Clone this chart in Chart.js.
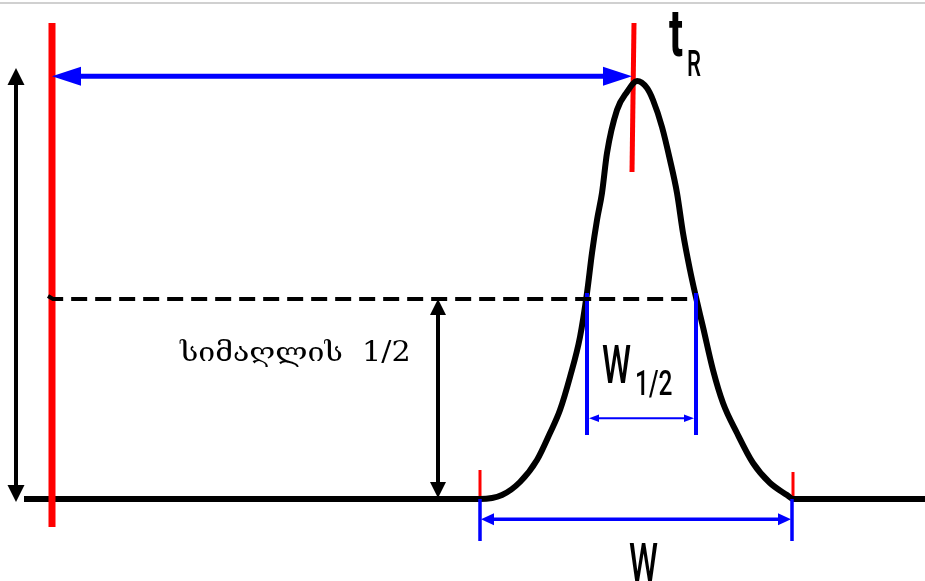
<!DOCTYPE html>
<html>
<head>
<meta charset="utf-8">
<script src="https://cdn.jsdelivr.net/npm/chart.js@4.4.0/dist/chart.umd.min.js"></script>
<style>
  html, body { margin: 0; padding: 0; background: #fff; }
  #wrap { position: relative; width: 925px; height: 581px; }
  #topRule { position: absolute; left: 0; top: 2px; width: 925px; height: 2px; background: #d0d0d0; }
</style>
</head>
<body>
<div id="wrap">
  <canvas id="peakChart" width="925" height="581"></canvas>
  <div id="topRule"></div>
</div>
<script>
// peak trace: time (x) and detector signal (y)
const peakTime   = [24, 480, 502, 520, 537, 550, 560, 570, 580, 587, 592, 597, 602, 607, 617, 627, 637, 647, 653, 662, 670, 677, 683, 690, 695, 703, 713, 723, 737, 753, 770, 787, 793, 925];
const peakSignal = [0, 0, 4, 17, 39, 66, 89, 122, 162, 206, 246, 279, 306, 346, 389, 407, 418, 411, 399, 372, 339, 306, 266, 229, 206, 172, 129, 96, 66, 36, 16, 4, 0, 0];

// guide marks
const injectionLine  = [[52, 476], [52, -28]];
const retentionLine  = [[634, 476], [632, 327]];
const halfHeightLine = [[48, 203], [53, 200], [695, 200]];
const baseTicksRed   = [[[480, 29], [480, 0]], [[793, 27], [793, 0]]];
const baseTicksBlue  = [[[480, 0], [480, -42]], [[792, 0], [792, -42]]];
const halfWidthTicks = [[[587, 206], [587, 64]], [[696, 206], [696, 64]]];

// arrows
const retentionArrow  = [[52, 422.7], [632, 422.7]];
const heightArrow     = [[16, 431], [16, -3]];
const halfHeightArrow = [[438, 200], [438, 1]];
const halfWidthArrow  = [[589, 80.7], [694, 80.7]];
const baseWidthArrow  = [[481, -20.3], [791, -20.3]];

// texts
const retentionLabel = ['t', 'R'];
const halfWidthLabel = ['W', '1/2'];
const baseWidthLabel = 'W';
const halfHeightText = 'სიმაღლის  1/2';

const toPts = arr => arr.map(p => ({ x: p[0], y: p[1] }));

function lineSet(points, color, width, extra) {
    return Object.assign({
        data: toPts(points),
        showLine: true,
        borderColor: color,
        borderWidth: width,
        pointRadius: 0,
        borderCapStyle: 'butt',
        fill: false
    }, extra || {});
}

function arrowSet(points, color, width, head, half) {
    return {
        data: toPts(points),
        showLine: false,
        pointRadius: 0,
        borderColor: color,
        arrow: { color: color, width: width, head: head, half: half }
    };
}

const arrowPlugin = {
    id: 'arrowPlugin',
    afterDatasetsDraw(chart) {
        const ctx = chart.ctx;
        chart.data.datasets.forEach((ds, i) => {
            if (!ds.arrow) return;
            const pts = chart.getDatasetMeta(i).data;
            const a = pts[0], b = pts[pts.length - 1];
            const dx = b.x - a.x, dy = b.y - a.y;
            const len = Math.hypot(dx, dy);
            const ux = dx / len, uy = dy / len;
            const o = ds.arrow;
            ctx.save();
            ctx.strokeStyle = o.color;
            ctx.fillStyle = o.color;
            ctx.lineWidth = o.width;
            ctx.beginPath();
            ctx.moveTo(a.x + ux * o.head * 0.7, a.y + uy * o.head * 0.7);
            ctx.lineTo(b.x - ux * o.head * 0.7, b.y - uy * o.head * 0.7);
            ctx.stroke();
            [[b, 1], [a, -1]].forEach(([tip, s]) => {
                const bx = tip.x - s * ux * o.head, by = tip.y - s * uy * o.head;
                ctx.beginPath();
                ctx.moveTo(tip.x, tip.y);
                ctx.lineTo(bx - uy * o.half, by + ux * o.half);
                ctx.lineTo(bx + uy * o.half, by - ux * o.half);
                ctx.closePath();
                ctx.fill();
            });
            ctx.restore();
        });
    }
};

const textPlugin = {
    id: 'textPlugin',
    afterDraw(chart, args, opts) {
        const ctx = chart.ctx;
        const xs = chart.scales.x, ys = chart.scales.y;
        opts.items.forEach(t => {
            const px = xs.getPixelForValue(t.x), py = ys.getPixelForValue(t.y);
            ctx.save();
            ctx.font = t.font;
            ctx.fillStyle = '#000';
            ctx.textAlign = 'left';
            ctx.textBaseline = 'alphabetic';
            ctx.translate(px, py);
            ctx.scale(t.squeeze || 1, 1);
            ctx.fillText(t.text, 0, 0);
            ctx.restore();
        });
    }
};

const datasets = [
    lineSet(halfHeightLine, '#000', 4, { borderDash: [16, 8] }),
    lineSet(injectionLine, '#ff0000', 7),
    lineSet(halfWidthTicks[0], '#0000ff', 4),
    lineSet(halfWidthTicks[1], '#0000ff', 4),
    lineSet(baseTicksBlue[0], '#0000ff', 3.5),
    lineSet(baseTicksBlue[1], '#0000ff', 3.5),
    lineSet(peakTime.map((t, k) => [t, peakSignal[k]]), '#000', 6,
        { cubicInterpolationMode: 'monotone', borderJoinStyle: 'round' }),
    lineSet(baseTicksRed[0], '#ff0000', 3),
    lineSet(baseTicksRed[1], '#ff0000', 3),
    lineSet(retentionLine, '#ff0000', 5),
    arrowSet(retentionArrow, '#0000ff', 5, 29, 9.5),
    arrowSet(heightArrow, '#000', 4, 17, 8.5),
    arrowSet(halfHeightArrow, '#000', 4, 16, 8),
    arrowSet(halfWidthArrow, '#0000ff', 2, 10, 3.8),
    arrowSet(baseWidthArrow, '#0000ff', 3.5, 13, 6)
];

new Chart(document.getElementById('peakChart'), {
    type: 'scatter',
    data: { datasets: datasets },
    options: {
        responsive: false,
        animation: false,
        layout: { padding: 0 },
        scales: {
            x: { type: 'linear', min: 0, max: 925, display: false },
            y: { type: 'linear', min: -82, max: 499, display: false }
        },
        plugins: {
            legend: { display: false },
            tooltip: { enabled: false },
            textPlugin: {
                items: [
                    { text: retentionLabel[0], x: 669, y: 443, font: 'bold 66px Roboto', squeeze: 0.63 },
                    { text: retentionLabel[1], x: 687, y: 423, font: '500 37px Roboto', squeeze: 0.6 },
                    { text: halfWidthLabel[0], x: 602, y: 116, font: '500 53px Roboto', squeeze: 0.62 },
                    { text: halfWidthLabel[1], x: 635, y: 104, font: '500 35px Roboto', squeeze: 0.7 },
                    { text: baseWidthLabel, x: 629, y: -82, font: '500 53px Roboto', squeeze: 0.62 },
                    { text: halfHeightText, x: 180, y: 138, font: '27px "DejaVu Serif", serif', squeeze: 1.12 }
                ]
            }
        }
    },
    plugins: [arrowPlugin, textPlugin]
});
</script>
</body>
</html>
